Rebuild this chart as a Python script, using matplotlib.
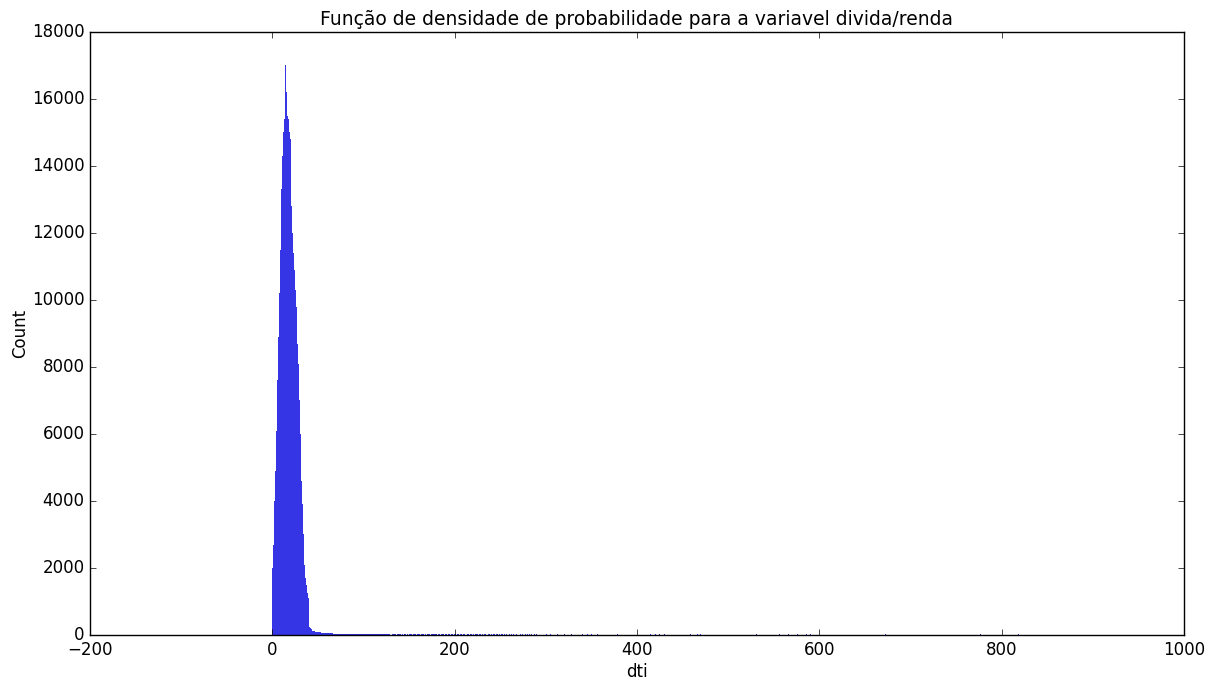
import numpy as np
import matplotlib
matplotlib.use("Agg")
import matplotlib.pyplot as plt

plt.style.use("classic")

# Histogram counts, bins of width 1 starting at dti = 0
main_counts = [2000, 2700, 4000, 4900, 6100, 7600, 8900, 10200, 11500, 12600,
               13300, 14300, 15000, 15400, 17000, 16200, 15500, 15400, 15000, 14800,
               14000, 12800, 12000, 11400, 10900, 10300, 9800, 8700, 8100, 7000,
               6000, 5100, 4600, 3900, 3000, 2100, 1700, 1500, 1250, 1100]
tail_counts = [250, 200, 170, 150, 130, 120, 110, 100, 95, 90, 85,
               80, 75, 70, 65, 62, 60, 58, 56, 54, 52,
               50, 49, 48, 47, 46, 45, 44, 43, 42, 41,
               40, 40, 39, 39, 38, 38, 37, 37, 36, 36,
               35, 35, 35, 34, 34, 34, 33, 33, 33, 32,
               32, 32, 31, 31, 31, 30, 30, 30, 30]
# dti 100..289, sparse small counts
far_counts = [30, 30, 29, 29, 29, 28, 28, 28, 28, 27, 27, 27, 27, 27, 26, 26, 26, 26, 26, 25,
              25, 25, 25, 25, 25, 25, 24, 24, 24, 0, 0, 24, 24, 0, 24, 24, 0, 24, 24, 24,
              24, 0, 24, 0, 24, 24, 24, 0, 24, 0, 24, 24, 24, 0, 24, 24, 24, 24, 0, 24,
              24, 24, 0, 24, 24, 24, 0, 24, 24, 0, 24, 24, 24, 0, 24, 24, 24, 24, 0, 24,
              24, 0, 24, 24, 0, 24, 24, 24, 0, 24, 24, 24, 0, 24, 24, 0, 24, 24, 0, 24,
              40, 24, 0, 24, 24, 0, 24, 24, 0, 24, 24, 0, 24, 0, 24, 24, 0, 24, 24, 0,
              24, 0, 24, 24, 0, 24, 0, 24, 24, 0, 24, 0, 24, 24, 0, 24, 0, 24, 24, 0,
              24, 0, 24, 24, 0, 24, 0, 24, 0, 24, 0, 24, 24, 0, 24, 0, 24, 0, 24, 0,
              24, 0, 24, 0, 24, 0, 0, 24, 0, 24, 0, 0, 24, 0, 24, 0, 0, 24, 0, 24,
              0, 0, 24, 0, 24, 0, 0, 24, 0, 24]
outlier_bins = [300, 305, 312, 320, 328, 340, 345, 350, 356, 378, 414, 420, 424,
                430, 458, 462, 466, 469, 531, 556, 566, 576, 585, 590, 672,
                776, 818]
outlier_counts = [24, 24, 24, 24, 24, 24, 24, 24, 24, 24, 24, 24, 24,
                  24, 24, 24, 24, 24, 24, 24, 24, 24, 24, 24, 24,
                  24, 24]

n_bins = 1000
counts = np.zeros(n_bins)
seq = main_counts + tail_counts
counts[:len(seq)] = seq
counts[100:100 + len(far_counts)] = far_counts
for b, c in zip(outlier_bins, outlier_counts):
    counts[b] = c

edges = np.arange(0, n_bins + 1, 1.0)
centers = edges[:-1] + 0.5

fig = plt.figure(figsize=(12.14, 6.79), dpi=100, facecolor="white")
ax = fig.add_axes([0.0741, 0.0648, 0.9012, 0.8881])
ax.hist(centers, bins=edges, weights=counts, color="#3535e5",
        edgecolor="none", linewidth=0)
ax.set_xlim(-200, 1000)
ax.set_ylim(0, 18000)
ax.set_xticks(np.arange(-200, 1001, 200))
ax.set_yticks(np.arange(0, 18001, 2000))
ax.set_xlabel("dti", labelpad=3)
ax.set_ylabel("Count", labelpad=2)
ax.set_title("Função de densidade de probabilidade para a variavel divida/renda",
             fontsize=13.5)
fig.savefig("out.png", dpi=100, facecolor="white")
